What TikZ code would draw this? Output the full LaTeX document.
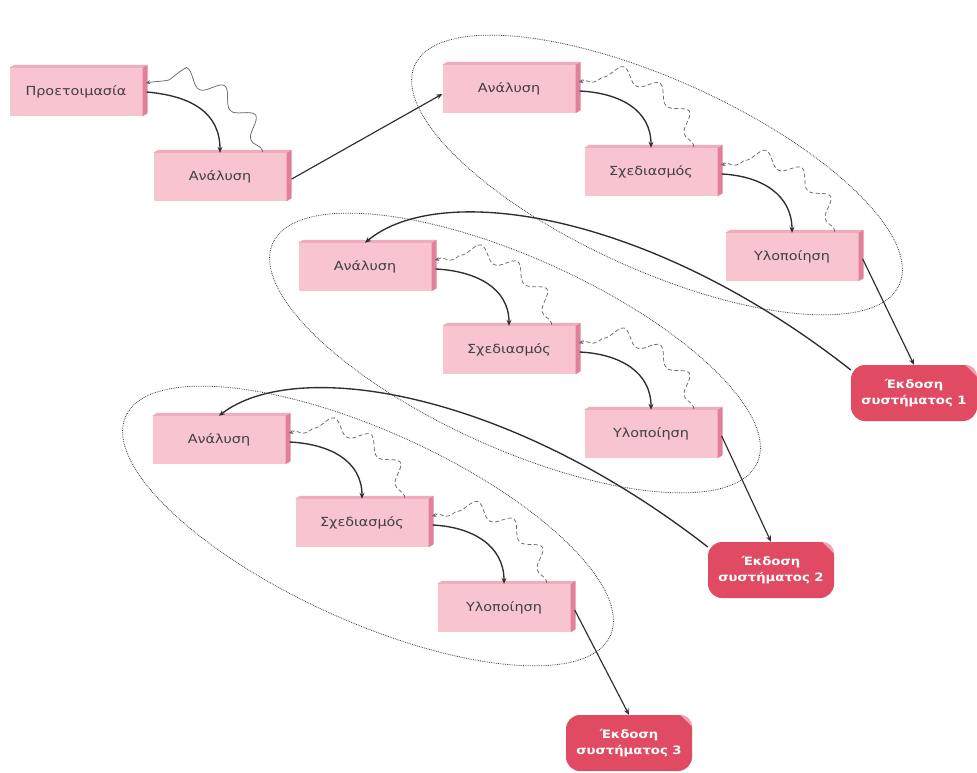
\documentclass[tikz,border=0pt]{standalone}
\usepackage{fontspec}
\setmainfont{DejaVu Sans}
\newfontfamily\boxfont[FakeStretch=1.15]{DejaVu Sans}
\usetikzlibrary{arrows.meta,decorations.pathmorphing,calc}
\definecolor{boxfront}{RGB}{247,196,208}
\definecolor{boxside}{RGB}{226,128,153}
\definecolor{boxtop}{RGB}{238,172,190}
\definecolor{relred}{RGB}{224,74,98}
\definecolor{relhi}{RGB}{242,160,172}
\definecolor{linedark}{RGB}{45,45,50}
\definecolor{wavegray}{RGB}{105,105,105}
\begin{document}
\begin{tikzpicture}[x=1pt,y=-1pt,
  phase/.style={fill=boxfront, minimum width=133pt, minimum height=48pt, inner sep=0pt,
    font=\boxfont\fontsize{12.5}{14}\selectfont, text=black!75},
  release/.style={fill=relred, rounded corners=14pt, minimum width=126pt, minimum height=56pt,
    inner sep=0pt, align=center, font=\boxfont\bfseries\fontsize{11.5}{15.5}\selectfont, text=white},
  flow/.style={draw=linedark, line width=1.35pt, -{Stealth[length=6pt,width=5pt]}},
  link/.style={draw=linedark, line width=1.15pt, -{Stealth[length=6pt,width=5pt]}},
  feedback/.style={draw=wavegray, line width=0.75pt, dash pattern=on 4pt off 2.5pt,
    -{Stealth[length=4.5pt,width=4pt]},
    decorate, decoration={snake, amplitude=7pt, segment length=38pt, pre length=2pt, post length=4pt}},
  prepwave/.style={draw=wavegray, line width=0.75pt,
    -{Stealth[length=4.5pt,width=4pt]},
    decorate, decoration={snake, amplitude=8pt, segment length=40pt, pre length=2pt, post length=4pt}},
  cyclering/.style={draw=black!75, densely dotted, line width=0.8pt},
]
\fill[white] (0,0) rectangle (977,773);
\useasboundingbox (0,0) rectangle (977,773);

% iteration rings
\draw[cyclering, rotate around={-24.4:(657,175)}] (657,175) ellipse [x radius=266pt, y radius=95pt];
\draw[cyclering, rotate around={-24.4:(515,353)}] (515,353) ellipse [x radius=266pt, y radius=95pt];
\draw[cyclering, rotate around={-24.4:(368,526)}] (368,526) ellipse [x radius=266pt, y radius=95pt];

% phase boxes
\node[phase] (P)  at (76,92)   {Προετοιμασία};
\node[phase] (A0) at (220,177) {Ανάλυση};
\node[phase] (A1) at (509,89)  {Ανάλυση};
\node[phase] (S1) at (651,172) {Σχεδιασμός};
\node[phase] (U1) at (792,257) {Υλοποίηση};
\node[phase] (A2) at (365,267) {Ανάλυση};
\node[phase] (S2) at (509,350) {Σχεδιασμός};
\node[phase] (U2) at (651,434) {Υλοποίηση};
\node[phase] (A3) at (219,440) {Ανάλυση};
\node[phase] (S3) at (362,523) {Σχεδιασμός};
\node[phase] (U3) at (504,608) {Υλοποίηση};
\foreach \n in {P,A0,A1,S1,U1,A2,S2,U2,A3,S3,U3}{
  \fill[boxtop] (\n.north west) -- ++(5,-3) -- ($(\n.north east)+(5,-3)$) -- (\n.north east) -- cycle;
  \fill[boxside] (\n.north east) -- ++(5,-3) -- ($(\n.south east)+(5,-3)$) -- (\n.south east) -- cycle;
}

% release nodes
\node[release] (R1) at (914,393) {Έκδοση\\συστήματος 1};
\node[release] (R2) at (771,570) {Έκδοση\\συστήματος 2};
\node[release] (R3) at (629,743) {Έκδοση\\συστήματος 3};
\foreach \n in {R1,R2,R3}{
  \fill[relhi] ($(\n.north east)+(-12,0)$) arc[start angle=90, end angle=0, radius=12pt] -- cycle;
}

% preparation
\draw[flow] ($(P.east)+(4,0)$) .. controls +(45,4) and +(0,-40) .. (A0.north);
\draw[prepwave] ($(A0.north east)+(-24,-1)$) .. controls +(-10,-40) and +(45,-10) .. ($(P.east)+(3,-9)$);
\draw[link] ($(A0.east)+(5,2)$) -- ($(A1.west)+(0,5)$);

% iteration 1
\draw[flow] ($(A1.east)+(4,2)$) .. controls +(40,2) and +(0,-38) .. (S1.north);
\draw[flow] ($(S1.east)+(4,2)$) .. controls +(40,2) and +(0,-38) .. (U1.north);
\draw[feedback] ($(S1.north east)+(-24,-1)$) .. controls +(-5,-40) and +(45,-12) .. ($(A1.east)+(3,-7)$);
\draw[feedback] ($(U1.north east)+(-24,-1)$) .. controls +(-5,-40) and +(45,-12) .. ($(S1.east)+(3,-7)$);
\draw[link] ($(U1.east)+(4,2)$) -- (R1.north);

% iteration 2
\draw[flow] (R1.160) .. controls (650,212) and (440,180) .. (A2.north);
\draw[flow] ($(A2.east)+(4,2)$) .. controls +(40,2) and +(0,-38) .. (S2.north);
\draw[flow] ($(S2.east)+(4,2)$) .. controls +(40,2) and +(0,-38) .. (U2.north);
\draw[feedback] ($(S2.north east)+(-24,-1)$) .. controls +(-5,-40) and +(45,-12) .. ($(A2.east)+(3,-7)$);
\draw[feedback] ($(U2.north east)+(-24,-1)$) .. controls +(-5,-40) and +(45,-12) .. ($(S2.east)+(3,-7)$);
\draw[link] ($(U2.east)+(4,2)$) -- (R2.north);

% iteration 3
\draw[flow] (R2.160) .. controls (505,389) and (295,357) .. (A3.north);
\draw[flow] ($(A3.east)+(4,2)$) .. controls +(40,2) and +(0,-38) .. (S3.north);
\draw[flow] ($(S3.east)+(4,2)$) .. controls +(40,2) and +(0,-38) .. (U3.north);
\draw[feedback] ($(S3.north east)+(-24,-1)$) .. controls +(-5,-40) and +(45,-12) .. ($(A3.east)+(3,-7)$);
\draw[feedback] ($(U3.north east)+(-24,-1)$) .. controls +(-5,-40) and +(45,-12) .. ($(S3.east)+(3,-7)$);
\draw[link] ($(U3.east)+(4,2)$) -- (R3.north);
\end{tikzpicture}
\end{document}
